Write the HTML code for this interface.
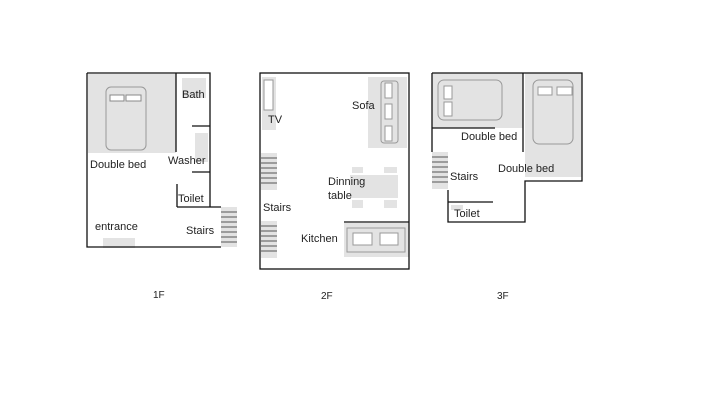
<!DOCTYPE html>
<html><head><meta charset="utf-8"><style>
html,body{margin:0;padding:0;background:#fff;}
svg{display:block;}
text{font-family:"Liberation Sans",sans-serif;font-size:11px;fill:#222;}
</style></head><body>
<svg width="720" height="405" viewBox="0 0 720 405" xmlns="http://www.w3.org/2000/svg">
<g stroke="none" fill="#e3e3e3">
<!-- 1F -->
<rect x="88" y="74" width="88" height="79"/>
<rect x="182" y="78" width="24" height="20"/>
<rect x="195" y="133" width="13" height="29"/>
<rect x="221" y="207" width="16" height="40"/>
<rect x="103" y="238" width="32" height="10"/>
<!-- 2F -->
<rect x="262" y="77" width="14" height="53"/>
<rect x="368" y="77" width="39" height="71"/>
<rect x="261" y="153" width="16" height="37"/>
<rect x="261" y="221" width="16" height="37"/>
<rect x="350" y="175" width="48" height="23"/>
<rect x="352" y="167" width="11" height="6"/>
<rect x="384" y="167" width="13" height="6"/>
<rect x="352" y="200" width="11" height="8"/>
<rect x="384" y="200" width="13" height="8"/>
<rect x="344" y="223" width="65" height="34"/>
<!-- 3F -->
<rect x="432" y="73" width="91" height="55"/>
<rect x="525" y="73" width="57" height="104"/>
<rect x="432" y="152" width="16" height="37"/>
<rect x="451" y="205" width="12" height="5"/>
</g>
<g fill="#fff" stroke="#999" stroke-width="1">
<rect x="106" y="87" width="40" height="63" rx="5" fill="none"/>
<rect x="110" y="95" width="14" height="6" stroke="#888"/>
<rect x="126" y="95" width="15" height="6" stroke="#888"/>
<rect x="264" y="80" width="9" height="30"/>
<rect x="381" y="81" width="17" height="62" rx="3" fill="none"/>
<rect x="385" y="83" width="7" height="15"/>
<rect x="385" y="104" width="7" height="15"/>
<rect x="385" y="126" width="7" height="15"/>
<rect x="347" y="228" width="58" height="24" fill="none"/>
<rect x="353" y="233" width="19" height="12"/>
<rect x="380" y="233" width="18" height="12"/>
<rect x="438" y="80" width="64" height="40" rx="6" fill="none"/>
<rect x="444" y="86" width="8" height="13"/>
<rect x="444" y="102" width="8" height="14"/>
<rect x="533" y="80" width="40" height="64" rx="6" fill="none"/>
<rect x="538" y="87" width="14" height="8"/>
<rect x="557" y="87" width="15" height="8"/>
</g>
<g stroke="#555" stroke-width="1">
<path d="M221 212H237M221 217H237M221 222H237M221 227H237M221 232H237M221 237H237M221 242H237"/>
<path d="M261 158H277M261 163H277M261 168H277M261 173H277M261 178H277M261 183H277"/>
<path d="M261 226H277M261 231H277M261 236H277M261 241H277M261 246H277M261 251H277"/>
<path d="M432 157H448M432 162H448M432 167H448M432 172H448M432 177H448M432 182H448"/>
</g>
<g stroke="#111" stroke-width="1.3" fill="none">
<!-- 1F -->
<path d="M87 73H210V207M87 73V247H221M177 207H221M176 73V152M192 126H210M192 172H210M177 184V207"/>
<!-- 2F -->
<rect x="260" y="73" width="149" height="196"/>
<path d="M344 222H409"/>
<!-- 3F -->
<path d="M432 73H582V181H525V222H448V190M432 73V152M432 128H495M523 73V152M448 202H493"/>
</g>
<g>
<text x="182" y="98">Bath</text>
<text x="90" y="168">Double bed</text>
<text x="168" y="164">Washer</text>
<text x="178" y="202">Toilet</text>
<text x="95" y="230">entrance</text>
<text x="186" y="234">Stairs</text>
<text x="268" y="123">TV</text>
<text x="352" y="109">Sofa</text>
<text x="328" y="185">Dinning</text>
<text x="328" y="199">table</text>
<text x="263" y="211">Stairs</text>
<text x="301" y="242">Kitchen</text>
<text x="461" y="140">Double bed</text>
<text x="498" y="172">Double bed</text>
<text x="450" y="180">Stairs</text>
<text x="454" y="217">Toilet</text>
<text x="153" y="298" style="font-size:10px">1F</text>
<text x="321" y="299" style="font-size:10px">2F</text>
<text x="497" y="299" style="font-size:10px">3F</text>
</g>
</svg>
</body></html>
